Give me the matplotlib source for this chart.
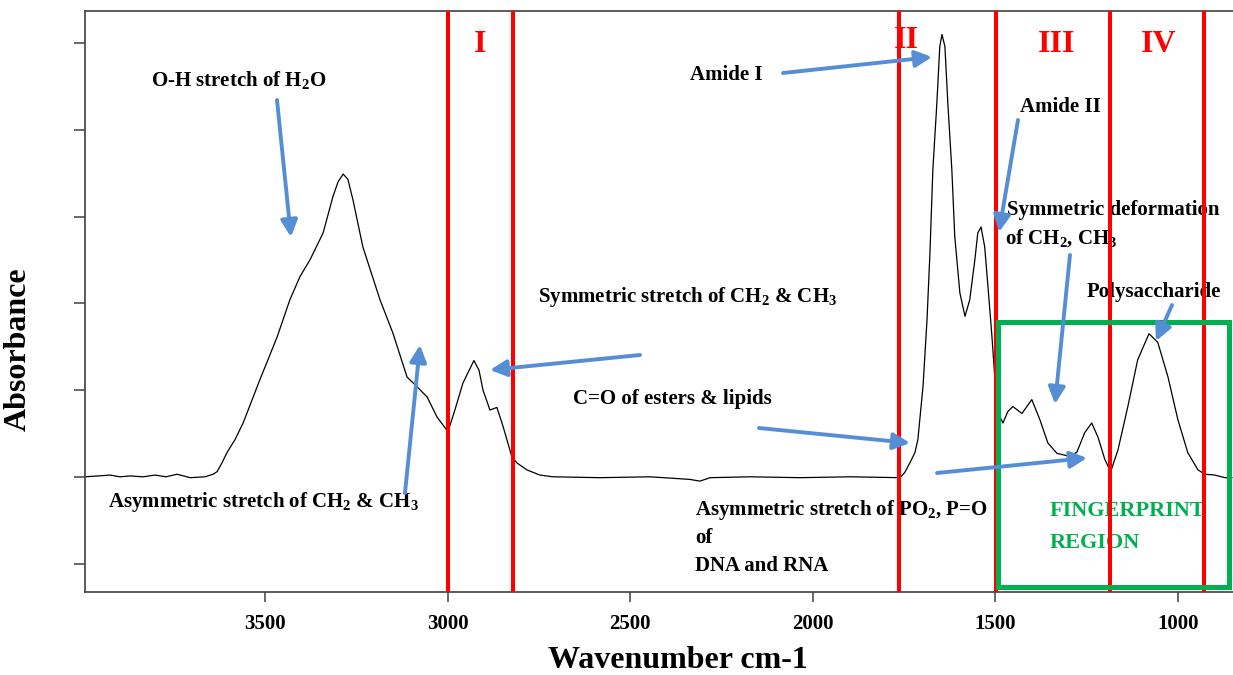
import numpy as np
import matplotlib.pyplot as plt
from matplotlib.patches import Rectangle

plt.rcParams['font.family'] = ['Liberation Serif', 'DejaVu Serif']
plt.rcParams['font.weight'] = 'bold'
plt.rcParams['mathtext.fontset'] = 'custom'
plt.rcParams['mathtext.rm'] = 'Liberation Serif:bold'
plt.rcParams['mathtext.bf'] = 'Liberation Serif:bold'
plt.rcParams['mathtext.default'] = 'rm'

# spectrum (wavenumber cm-1, absorbance in tick units of 0.1)
wavenumber = [3993, 3957, 3924, 3897, 3870, 3834, 3801, 3771, 3741, 3705,
              3664, 3642, 3631, 3618, 3604, 3582, 3560, 3514, 3467, 3432,
              3404, 3377, 3341, 3314, 3300, 3286, 3273, 3259, 3232, 3185,
              3150, 3111, 3084, 3056, 3029, 2999, 2980, 2958, 2928, 2914,
              2903, 2884, 2865, 2848, 2824, 2810, 2783, 2747, 2711, 2583,
              2446, 2336, 2309, 2281, 2172, 2035, 1898, 1761, 1748, 1734,
              1720, 1712, 1698, 1687, 1679, 1671, 1660, 1652, 1646, 1638,
              1630, 1619, 1611, 1597, 1583, 1570, 1556, 1548, 1539, 1529,
              1520, 1509, 1501, 1487, 1479, 1466, 1452, 1427, 1400, 1378,
              1356, 1331, 1301, 1277, 1255, 1236, 1219, 1200, 1184, 1164,
              1137, 1110, 1079, 1055, 1027, 1000, 973, 945, 926, 899,
              871, 852]
absorbance = [0.000, 0.001, 0.002, 0.000, 0.001, 0.000, 0.002, 0.000, 0.003, -0.001,
              0.000, 0.003, 0.006, 0.016, 0.028, 0.043, 0.062, 0.112, 0.161, 0.204,
              0.231, 0.250, 0.281, 0.323, 0.340, 0.349, 0.343, 0.319, 0.265, 0.204,
              0.166, 0.115, 0.104, 0.092, 0.069, 0.052, 0.077, 0.108, 0.134, 0.123,
              0.100, 0.077, 0.080, 0.058, 0.023, 0.016, 0.008, 0.002, 0.000, -0.001,
              0.000, -0.003, -0.005, -0.001, 0.000, -0.001, 0.000, -0.001, 0.005, 0.016,
              0.028, 0.043, 0.104, 0.181, 0.258, 0.354, 0.431, 0.496, 0.510, 0.496,
              0.431, 0.354, 0.277, 0.212, 0.185, 0.204, 0.250, 0.281, 0.288, 0.265,
              0.219, 0.161, 0.112, 0.069, 0.062, 0.075, 0.081, 0.073, 0.089, 0.066,
              0.039, 0.027, 0.024, 0.028, 0.051, 0.062, 0.046, 0.020, 0.006, 0.031,
              0.081, 0.135, 0.165, 0.155, 0.115, 0.066, 0.028, 0.008, 0.003, 0.002,
              -0.001, -0.001]

region_edges = [3000, 2822, 1764, 1497, 1186, 929]
region_names = ['I', 'II', 'III', 'IV']
fingerprint_x = (1493, 859)
fingerprint_y = (-0.127, 0.179)
xticks = [3500, 3000, 2500, 2000, 1500, 1000]
yticks = [-0.1, 0.0, 0.1, 0.2, 0.3, 0.4, 0.5]

W, H = 1233, 675
BLUE = '#558ED5'
GREEN = '#00B050'


def P(x, y):
    # picture pixel (from top left) -> figure fraction
    return (x / W, 1 - y / H)


fig = plt.figure(figsize=(W / 100, H / 100), dpi=100)
ax = fig.add_axes([85 / W, 1 - 592 / H, 1 - 85 / W, (592 - 11) / H])

ax.plot(wavenumber, absorbance, color='black', lw=0.9, zorder=2)
ax.set_xlim(3993, 849)
ax.set_ylim(-0.1328, 0.537)

for wn in region_edges:
    ax.axvline(wn, color='#FF0000', lw=2.9, zorder=4)

ax.add_patch(Rectangle((fingerprint_x[0], fingerprint_y[0]),
                       fingerprint_x[1] - fingerprint_x[0],
                       fingerprint_y[1] - fingerprint_y[0],
                       fill=False, ec=GREEN, lw=3.6, zorder=5, clip_on=False))

ax.set_xticks(xticks)
ax.set_xticklabels([str(t) for t in xticks])
ax.set_yticks(yticks)
ax.set_yticklabels([])
ax.tick_params(axis='x', length=7, width=1.1, color='#404040', labelsize=15, pad=9)
ax.tick_params(axis='y', length=8, width=1.1, color='#404040')
for s in ['left', 'bottom', 'top']:
    ax.spines[s].set_color('#404040')
    ax.spines[s].set_linewidth(1.2)
ax.spines['right'].set_visible(False)

tf = fig.transFigure
fig.text(*P(678, 660), 'Wavenumber cm-1', fontsize=23, ha='center', va='center')
fig.text(*P(18, 349), 'Absorbance', fontsize=23, rotation=90, ha='center', va='center')

# region labels
for name, (px, py) in zip(region_names, [(480, 44), (906, 40), (1057, 44), (1159, 44)]):
    ax.text(*P(px, py), name, transform=tf, color='#FF0000', fontsize=23,
            ha='center', va='center', zorder=3)

labels = [
    (151, 80, r'O-H stretch of H$_2$O'),
    (690, 75, 'Amide I'),
    (1020, 107, 'Amide II'),
    (1007, 210, 'Symmetric deformation'),
    (1005, 238, r'of CH$_2$, CH$_3$'),
    (1087, 292, 'Polysaccharide'),
    (538, 297, r'Symmetric stretch of CH$_2$ & CH$_3$'),
    (573, 399, 'C=O of esters & lipids'),
    (108, 502, r'Asymmetric stretch of CH$_2$ & CH$_3$'),
    (695, 510, r'Asymmetric stretch of PO$_2$, P=O'),
    (695, 538, 'of'),
    (695, 566, 'DNA and RNA'),
]
for px, py, s in labels:
    ax.text(*P(px, py), s, transform=tf, fontsize=15, ha='left', va='center', zorder=3)

ax.text(*P(1050, 511), 'FINGERPRINT', transform=tf, color=GREEN, fontsize=16,
        ha='left', va='center', zorder=3)
ax.text(*P(1050, 543), 'REGION', transform=tf, color=GREEN, fontsize=16,
        ha='left', va='center', zorder=3)

arrows = [
    ((277, 100), (291, 237)),
    ((783, 73), (932, 57)),
    ((1018, 120), (999, 232)),
    ((1070, 255), (1055, 404)),
    ((1172, 305), (1156, 341)),
    ((640, 355), (490, 370)),
    ((405, 493), (420, 345)),
    ((759, 428), (910, 443)),
    ((937, 473), (1087, 458)),
]
for tail, tip in arrows:
    ax.annotate('', xy=P(*tip), xytext=P(*tail), xycoords='figure fraction',
                textcoords='figure fraction', zorder=6,
                arrowprops=dict(arrowstyle='-|>,head_length=1.0,head_width=0.5',
                                mutation_scale=10, lw=2.8, color=BLUE,
                                shrinkA=0, shrinkB=0))

fig.savefig('out.png', dpi=100)
